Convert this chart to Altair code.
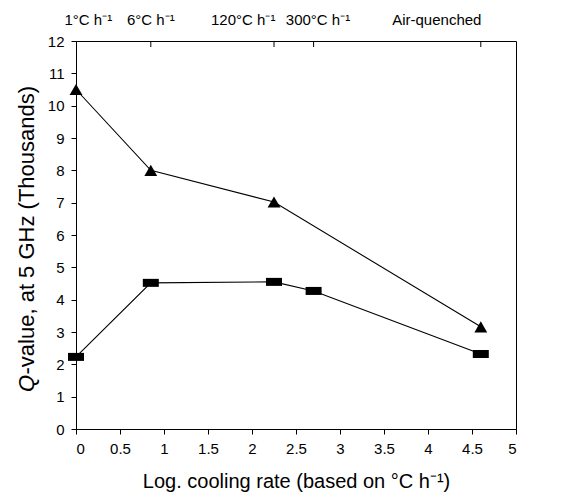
import altair as alt
import pandas as pd

# Data
tri_x = [0, 0.85, 2.25, 4.6]
tri_y = [10.5, 8.0, 7.02, 3.16]
sq_x = [0, 0.85, 2.25, 2.7, 4.6]
sq_y = [2.23, 4.52, 4.55, 4.27, 2.32]

x_ticks = [0, 0.5, 1, 1.5, 2, 2.5, 3, 3.5, 4, 4.5, 5]
y_ticks = list(range(0, 13))

top_tick_x = [0.85, 2.25, 2.7, 4.6]
top_labels = ["1°C h⁻¹", "6°C h⁻¹", "120°C h⁻¹", "300°C h⁻¹", "Air-quenched"]
top_label_x = [0.14, 0.85, 1.9, 2.75, 4.1]

y_title_parts = ["Q", "-value, at 5 GHz (Thousands)"]
x_title = "Log. cooling rate (based on °C h⁻¹)"

FONT = "Liberation Sans"
RECT = "M-1,-0.5L1,-0.5L1,0.5L-1,0.5Z"

pts = pd.DataFrame(
    {"series": ["tri"] * len(tri_x) + ["sq"] * len(sq_x),
     "x": tri_x + sq_x,
     "y": tri_y + sq_y}
)

xs = alt.Scale(domain=[0, 5], nice=False, zero=False)
ys = alt.Scale(domain=[0, 12], nice=False)

x_axis = alt.Axis(values=x_ticks, labelExpr="'' + datum.value", title=x_title,
                  titleFontSize=20, titleFont=FONT, titleFontWeight="normal",
                  titlePadding=15, labelFont=FONT, labelFontSize=15,
                  labelPadding=7, tickSize=5, grid=False, domainColor="black",
                  tickColor="black", labelColor="black", titleColor="black",
                  labelOverlap=False)
y_axis = alt.Axis(values=y_ticks, title=None, labelFont=FONT, labelFontSize=15,
                  labelPadding=7, tickSize=5, grid=False, domainColor="black",
                  tickColor="black", labelColor="black", labelOverlap=False)

x_enc = alt.X("x:Q", scale=xs, axis=x_axis)
y_enc = alt.Y("y:Q", scale=ys, axis=y_axis)

lines = alt.Chart(pts).mark_line(color="black", strokeWidth=1.1).encode(
    x=x_enc, y=y_enc, detail="series:N"
)

points = alt.Chart(pts).mark_point(filled=True, opacity=1, color="black").encode(
    x=x_enc,
    y=y_enc,
    shape=alt.Shape("series:N", scale=alt.Scale(domain=["tri", "sq"], range=["triangle-up", RECT]), legend=None),
    size=alt.Size("series:N", scale=alt.Scale(domain=["tri", "sq"], range=[165, 256]), legend=None),
)

top_ticks = alt.Chart(pd.DataFrame({"x": top_tick_x})).mark_rule(color="black", strokeWidth=1).encode(
    x=x_enc, y=alt.value(0), y2=alt.value(6)
)

top_text = alt.Chart(pd.DataFrame({"x": top_label_x, "t": top_labels})).mark_text(
    font=FONT, fontSize=15, baseline="alphabetic", align="center", color="black"
).encode(x=x_enc, y=alt.value(-16), text="t:N")

ytitle_q = alt.Chart(pd.DataFrame({"t": [y_title_parts[0]]})).mark_text(
    font=FONT, fontSize=22, fontStyle="italic", angle=270, align="left",
    baseline="middle", color="black"
).encode(x=alt.value(-49), y=alt.value(351), text="t:N")

ytitle_rest = alt.Chart(pd.DataFrame({"t": [y_title_parts[1]]})).mark_text(
    font=FONT, fontSize=22, angle=270, align="left", baseline="middle", color="black"
).encode(x=alt.value(-49), y=alt.value(333.5), text="t:N")

chart = alt.layer(lines, points, top_ticks, top_text, ytitle_q, ytitle_rest).properties(
    width=440, height=388,
    padding={"left": 68, "top": 33, "right": 41, "bottom": 65},
    autosize=alt.AutoSizeParams(type="none"),
    background="white",
).configure_view(stroke="black", strokeWidth=1)

chart.save("out.html", embed_options={"renderer": "svg", "actions": False})
